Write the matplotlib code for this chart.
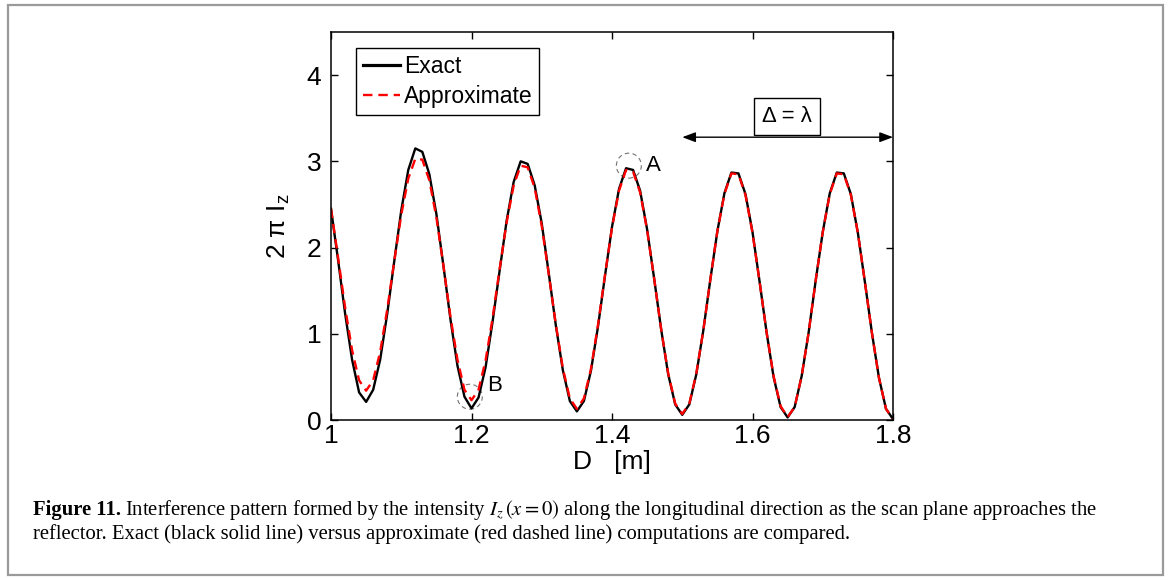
import numpy as np
import matplotlib
matplotlib.use("Agg")
import matplotlib.pyplot as plt
from matplotlib.patches import Rectangle, Ellipse

# ---------------- data ----------------
D = np.linspace(1.0, 1.8, 81)  # distance grid [m], step 0.01

exact = [2.45, 1.86, 1.24, 0.70, 0.32, 0.21, 0.35, 0.70, 1.23, 1.84,
         2.43, 2.90, 3.15, 3.11, 2.85, 2.39, 1.79, 1.17, 0.63, 0.27,
         0.135, 0.26, 0.61, 1.14, 1.73, 2.31, 2.76, 3.00, 2.97, 2.72,
         2.28, 1.70, 1.10, 0.58, 0.22, 0.10, 0.22, 0.57, 1.08, 1.67,
         2.24, 2.68, 2.92, 2.90, 2.66, 2.21, 1.64, 1.05, 0.53, 0.18,
         0.06, 0.18, 0.53, 1.04, 1.63, 2.19, 2.63, 2.87, 2.86, 2.62,
         2.18, 1.61, 1.02, 0.50, 0.15, 0.03, 0.15, 0.51, 1.02, 1.62,
         2.18, 2.63, 2.87, 2.86, 2.62, 2.17, 1.60, 1.01, 0.49, 0.13,
         0.01]

approx = [2.45, 1.89, 1.31, 0.81, 0.46, 0.34, 0.46, 0.79, 1.28, 1.84,
          2.38, 2.80, 3.03, 3.02, 2.78, 2.35, 1.79, 1.20, 0.70, 0.35,
          0.23, 0.35, 0.69, 1.18, 1.75, 2.29, 2.72, 2.95, 2.93, 2.69,
          2.25, 1.69, 1.11, 0.60, 0.25, 0.13, 0.25, 0.59, 1.10, 1.68,
          2.23, 2.66, 2.90, 2.88, 2.64, 2.20, 1.64, 1.05, 0.54, 0.19,
          0.07, 0.19, 0.54, 1.04, 1.63, 2.19, 2.62, 2.86, 2.85, 2.61,
          2.17, 1.61, 1.02, 0.51, 0.16, 0.035, 0.15, 0.51, 1.02, 1.62,
          2.18, 2.62, 2.86, 2.85, 2.61, 2.17, 1.60, 1.01, 0.49, 0.13,
          0.01]

series_labels = ["Exact", "Approximate"]
x_ticks = [1.0, 1.2, 1.4, 1.6, 1.8]
x_ticklabels = ["1", "1.2", "1.4", "1.6", "1.8"]
y_ticks = [0, 1, 2, 3, 4]
y_ticklabels = ["0", "1", "2", "3", "4"]

point_A = (1.424, 2.95)
point_B = (1.1976, 0.27)
span_start, span_end, span_y = 1.5, 1.8, 3.28
span_label_pos = (1.649, 3.52)

# ---------------- figure ----------------
W, H = 1168, 580
fig = plt.figure(figsize=(W / 100, H / 100), dpi=100)
fig.patch.set_facecolor("white")
fig.patches.append(Rectangle((8 / W, 5 / H), 1155 / W, 570 / H,
                             transform=fig.transFigure, fill=False,
                             edgecolor="#9a9a9a", linewidth=1.6))

sans = "Liberation Sans"
ax = fig.add_axes([331 / W, 1 - 420 / H, 562 / W, 388 / H])

ax.plot(D, exact, color="black", lw=1.7, label=series_labels[0])
ax.plot(D, approx, color="red", lw=1.7, dashes=(4, 2.5),
        label=series_labels[1])

ax.set_xlim(1.0, 1.8)
ax.set_ylim(0, 4.5)
ax.set_xticks(x_ticks)
ax.set_xticklabels(x_ticklabels, family=sans, fontsize=19)
ax.set_yticks(y_ticks)
ax.set_yticklabels(y_ticklabels, family=sans, fontsize=19)
ax.tick_params(direction="in", top=True, right=True, length=5, width=1)
ax.tick_params(axis="x", pad=3)
ax.tick_params(axis="y", pad=7)
for s in ax.spines.values():
    s.set_linewidth(1.1)

ax.set_xlabel("D   [m]", family=sans, fontsize=19, labelpad=1)
ax.set_ylabel(r"2 π I$_\mathregular{z}$", family=sans, fontsize=19)
ax.yaxis.set_label_coords(-0.07, 0.5)

leg = ax.legend(loc="upper left", bbox_to_anchor=(0.044, 0.958),
                borderaxespad=0, prop={"family": sans, "size": 16.5},
                handlelength=1.65, handletextpad=0.15, labelspacing=0.3,
                borderpad=0.3, fancybox=False, framealpha=1)
leg.get_frame().set_edgecolor("black")
leg.get_frame().set_linewidth(1.0)
leg.get_lines()[0].set_linewidth(2.3)

# circles around A and B (fixed pixel size ~24 px)
for (px, py) in (point_A, point_B):
    ax.add_patch(Ellipse((px, py), 25 / 703.5, 25 / 86.3, fill=False,
                         edgecolor="0.45", lw=0.8, ls=(0, (4, 3))))
ax.text(point_A[0] + 0.024, point_A[1], "A", family=sans, fontsize=16,
        va="center", ha="left")
ax.text(point_B[0] + 0.025, point_B[1] + 0.13, "B", family=sans,
        fontsize=16, va="center", ha="left")

# span arrow
ax.annotate("", xy=(span_end, span_y), xytext=(span_start, span_y),
            arrowprops=dict(arrowstyle="<|-|>,head_length=0.8,head_width=0.3",
                            color="black", lw=1.0, shrinkA=0, shrinkB=0),
            annotation_clip=False)
ax.text(span_label_pos[0], span_label_pos[1], "Δ = λ", family=sans,
        fontsize=16, ha="center", va="center",
        bbox=dict(boxstyle="square,pad=0.35", facecolor="white",
                  edgecolor="black", lw=1.0))

# ---------------- caption ----------------
serif = "Liberation Serif"
cap_size = 14.9
r = fig.canvas.get_renderer()
y1 = 1 - 515 / H
y2 = 1 - 539 / H
t0 = fig.text(33 / W, y1, "Figure 11.", family=serif, weight="bold",
              fontsize=cap_size, va="baseline", ha="left")
bb = t0.get_window_extent(r)
fig.text((bb.x1 + 4) / W, y1,
         r"Interference pattern formed by the intensity $I_z\,(x = 0)$ along "
         r"the longitudinal direction as the scan plane approaches the",
         family=serif, fontsize=cap_size, va="baseline", ha="left",
         math_fontfamily="stix")
fig.text(33 / W, y2,
         "reflector. Exact (black solid line) versus approximate (red dashed "
         "line) computations are compared.",
         family=serif, fontsize=cap_size, va="baseline", ha="left")

fig.savefig("out.png", dpi=100)
